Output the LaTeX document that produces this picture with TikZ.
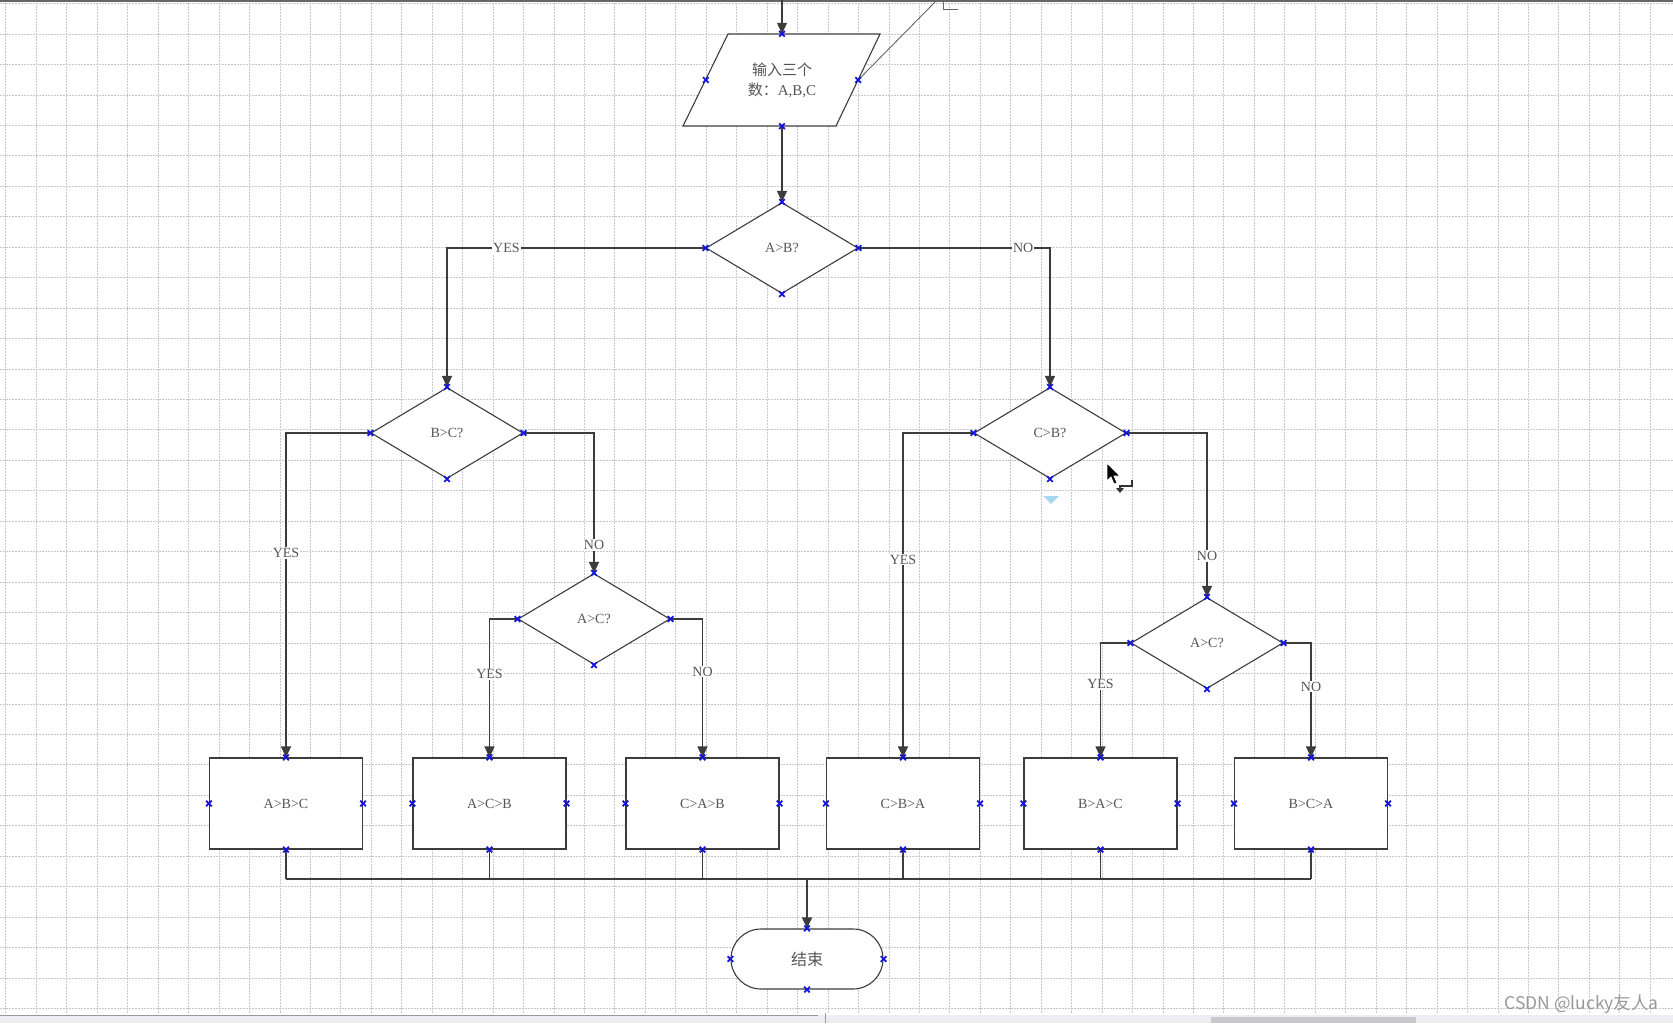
\documentclass[tikz,border=0pt]{standalone}
\usepackage{fontspec}
\setmainfont{Liberation Serif}
\newfontfamily\cjk{Noto Sans CJK SC}
\usetikzlibrary{shapes.geometric,arrows.meta}
\definecolor{txt}{RGB}{85,85,85}
\definecolor{lnc}{RGB}{60,60,60}
\definecolor{mkc}{RGB}{20,20,220}
\definecolor{gridc}{RGB}{200,200,210}
\definecolor{sbar}{RGB}{236,236,242}
\definecolor{sthumb}{RGB}{200,200,205}
\definecolor{hint}{RGB}{170,215,240}
\begin{document}
\begin{tikzpicture}[x=1pt,y=-1pt,
  ln/.style={draw=lnc, line width=1.1pt},
  arr/.style={ln, -{Triangle[width=10pt,length=11pt]}},
  shp/.style={draw=lnc, line width=1.1pt, fill=white, inner sep=0pt, text=txt, font=\fontsize{14}{16}\selectfont},
  dec/.style={shp, diamond, minimum width=152pt, minimum height=91pt},
  res/.style={shp, rectangle, minimum width=153pt, minimum height=91pt},
  lab/.style={fill=white, inner sep=1pt, text=txt, font=\fontsize{14}{16}\selectfont},
  mk/.style={draw=mkc, line width=1.8pt},
  gridln/.style={draw=gridc, line width=0.7pt, dash pattern=on 1.5pt off 1.5pt}
]
\useasboundingbox (0,0) rectangle (1673,1023);
\fill[white] (0,0) rectangle (1673,1023);
% grid
\foreach \k in {0,...,54} {\draw[gridln] (5.8+30.45*\k,0) -- (5.8+30.45*\k,1013);}
\foreach \k in {0,...,33} {\draw[gridln] (0,3.5+30.45*\k) -- (1673,3.5+30.45*\k);}
% top border
\draw[draw=black!60, line width=1.6pt] (0,1) -- (1673,1);
% bottom scrollbar area
\fill[sbar] (0,1015) rectangle (1673,1023);
\draw[draw=black!40, line width=1pt] (0,1015) -- (818,1015);
\draw[draw=black!40, line width=1pt] (825,1013) -- (825,1023);
\fill[sthumb] (1211,1017) rectangle (1416,1023);

% input parallelogram
\draw[shp] (728,34) -- (880,34) -- (836,126) -- (683,126) -- cycle;
\node[minimum width=152pt, minimum height=92pt, inner sep=0pt, text=txt, align=center,
      font=\fontsize{15}{21}\selectfont] (inp) at (782,80)
      {{\cjk 输入三个}\\[-1pt]{\cjk 数：}A,B,C};

% decisions
\node[dec] (d1) at (782,248) {A>B?};
\node[dec] (d2) at (447,433) {B>C?};
\node[dec] (d3) at (1050,433) {C>B?};
\node[dec] (d4) at (594,619) {A>C?};
\node[dec] (d5) at (1207,643) {A>C?};

% results
\node[res] (b1) at (286,803.5) {A>B>C};
\node[res] (b2) at (489.5,803.5) {A>C>B};
\node[res] (b3) at (702.5,803.5) {C>A>B};
\node[res] (b4) at (903,803.5) {C>B>A};
\node[res] (b5) at (1100.5,803.5) {B>A>C};
\node[res] (b6) at (1311,803.5) {B>C>A};

% end
\node[shp, rectangle, rounded corners=30pt, minimum width=152pt, minimum height=60pt,
      font=\cjk\fontsize{16}{18}\selectfont] (end) at (807,959) {结束};

% connectors
\coordinate (topin) at (782,0);
\draw[arr] (topin) -- (inp.north);
\draw[arr] (inp.south) -- (d1.north);
\draw[arr] (d1.west) -| node[lab, pos=0.385] {YES} (d2.north);
\draw[arr] (d1.east) -| node[lab, pos=0.43] {NO} (d3.north);
\draw[arr] (d2.west) -| node[lab, pos=0.685] {YES} (b1.north);
\draw[arr] (d2.east) -| node[lab, pos=0.9] {NO} (d4.north);
\draw[arr] (d4.west) -| node[lab, pos=0.7] {YES} (b2.north);
\draw[arr] (d4.east) -| node[lab, pos=0.69] {NO} (b3.north);
\draw[arr] (d3.west) -| node[lab, pos=0.695] {YES} (b4.north);
\draw[arr] (d3.east) -| node[lab, pos=0.875] {NO} (d5.north);
\draw[arr] (d5.west) -| node[lab, pos=0.68] {YES} (b5.north);
\draw[arr] (d5.east) -| node[lab, pos=0.69] {NO} (b6.north);

% merge
\coordinate (j) at (807,879);
\foreach \b in {b1,b2,b3,b4,b5,b6} {\draw[ln] (\b.south) -- (\b.south |- j);}
\draw[ln] (b1.south |- j) -- (b6.south |- j);
\draw[ln, line width=1.7pt, -{Triangle[width=10pt,length=11pt]}] (j) -- (end.north);

% callout line at top
\coordinate (cl) at (937,0);
\draw[draw=black!60, line width=0.9pt] (inp.east) -- (cl);
\draw[draw=black!60, line width=1pt] (943,0) -- (943,9) -- (958,9);

% markers
\foreach \n in {inp,d1,d2,d3,d4,d5,b1,b2,b3,b4,b5,b6,end} {
  \foreach \a in {north,south,east,west} {
    \draw[mk] (\n.\a) ++(-2.8,-2.8) -- ++(5.6,5.6) ++(-5.6,0) -- ++(5.6,-5.6);
  }
}

% small light-blue hint triangle
\fill[hint] (1043,496) -- (1059,496) -- (1051,504) -- cycle;

% mouse cursor
\draw[fill=black, draw=white, line width=0.8pt] (1107,463) -- (1107,481) -- (1111,477) -- (1114,484) -- (1117,483) -- (1114,476) -- (1120,476) -- cycle;
\draw[draw=black!80, line width=1.2pt] (1132,480) -- (1132,486) -- (1120,486) -- (1120,489);
\fill[black!80] (1116,488) -- (1124,488) -- (1120,493) -- cycle;

% watermark
\node[text=black!40, font=\cjk\fontsize{17.5}{19}\selectfont, anchor=east, inner sep=0pt] (wm) at (1659,1004) {CSDN @lucky友人a};
\end{tikzpicture}
\end{document}
